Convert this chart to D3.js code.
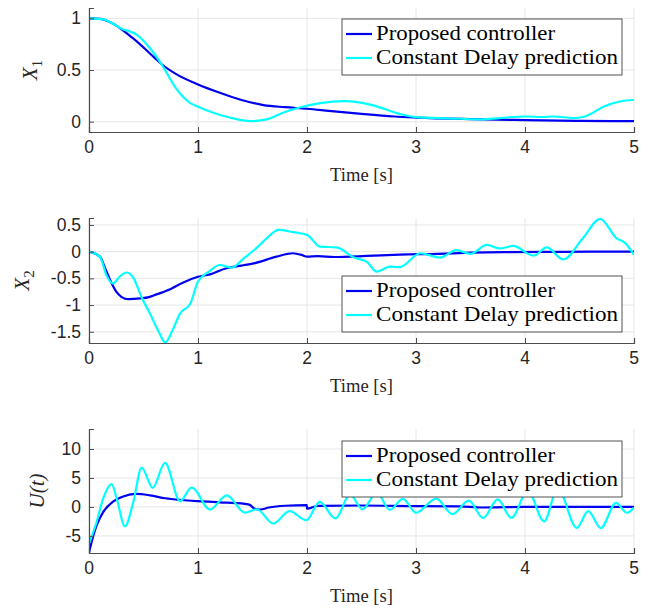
<!DOCTYPE html>
<html>
<head>
<meta charset="utf-8">
<script src="https://cdn.jsdelivr.net/npm/d3@7/dist/d3.min.js"></script>
<style>
	body { margin: 0; background: #fff; }
</style>
</head>
<body>
<div id="idContent"></div>
<script>
var aTicksX = [0, 1, 2, 3, 4, 5];
var aLegend = ["Proposed controller", "Constant Delay prediction"];

// X1
var aX1PropT = [0, 0.1, 0.2, 0.4, 0.6, 0.67, 0.8, 1.0, 1.2, 1.4, 1.6, 1.8, 2.0, 2.2, 2.5, 2.8, 3.0, 3.5, 4.0, 4.5, 5.0];
var aX1PropV = [1, 0.995, 0.96, 0.81, 0.62, 0.553, 0.46, 0.36, 0.28, 0.21, 0.16, 0.14, 0.125, 0.105, 0.075, 0.05, 0.04, 0.025, 0.015, 0.008, 0.005];
var aX1ConsT = [0, 0.13, 0.3, 0.44, 0.56, 0.667, 0.8, 0.93, 1.0, 1.14, 1.29, 1.48, 1.63, 1.78, 1.94, 2.12, 2.35, 2.6, 2.85, 3.0, 3.2, 3.4, 3.6, 3.77, 4.0, 4.15, 4.27, 4.44, 4.55, 4.73, 4.87, 5.0];
var aX1ConsV = [1, 0.99, 0.9, 0.84, 0.71, 0.553, 0.32, 0.18, 0.145, 0.087, 0.04, 0.005, 0.022, 0.087, 0.14, 0.18, 0.198, 0.16, 0.075, 0.044, 0.035, 0.028, 0.022, 0.035, 0.05, 0.045, 0.05, 0.035, 0.05, 0.15, 0.195, 0.212];

// X2
var aX2PropT = [0, 0.1, 0.15, 0.2, 0.25, 0.3, 0.36, 0.47, 0.55, 0.62, 0.75, 0.85, 1.0, 1.11, 1.26, 1.4, 1.51, 1.72, 1.87, 1.95, 2.0, 2.1, 2.25, 2.55, 2.85, 3.2, 3.5, 3.8, 4.2, 4.6, 5.0];
var aX2PropV = [0, -0.094, -0.32, -0.56, -0.75, -0.85, -0.89, -0.875, -0.85, -0.8, -0.7, -0.59, -0.47, -0.425, -0.31, -0.26, -0.22, -0.094, -0.03, -0.06, -0.094, -0.085, -0.1, -0.08, -0.055, -0.04, -0.02, -0.01, -0.005, 0, 0];
var aX2ConsT = [0, 0.1, 0.16, 0.22, 0.28, 0.345, 0.41, 0.48, 0.56, 0.64, 0.7, 0.76, 0.835, 0.93, 1.0, 1.1, 1.2, 1.31, 1.42, 1.54, 1.63, 1.74, 1.87, 2.0, 2.12, 2.27, 2.43, 2.55, 2.64, 2.76, 2.85, 3.04, 3.22, 3.37, 3.5, 3.65, 3.77, 3.89, 4.08, 4.2, 4.35, 4.53, 4.69, 4.84, 4.92, 5.0];
var aX2ConsV = [0, -0.094, -0.44, -0.594, -0.47, -0.39, -0.5, -0.845, -1.16, -1.5, -1.7, -1.5, -1.16, -0.97, -0.56, -0.376, -0.25, -0.3, -0.125, 0.075, 0.25, 0.408, 0.365, 0.314, 0.094, 0.08, -0.11, -0.19, -0.376, -0.28, -0.29, -0.03, -0.11, 0.03, -0.04, 0.127, 0.06, 0.107, -0.075, 0.08, -0.145, 0.25, 0.614, 0.25, 0.16, -0.06];

// U(t)
var aUPropT = [0, 0.025, 0.07, 0.13, 0.22, 0.32, 0.44, 0.56, 0.7, 0.85, 1.0, 1.2, 1.4, 1.47, 1.52, 1.57, 1.65, 1.8, 1.999, 2.0, 2.1, 2.5, 3.0, 3.4, 3.6, 4.0, 4.5, 5.0];
var aUPropV = [-7.9, -6.0, -3.2, -0.9, 0.9, 1.85, 2.25, 2.0, 1.5, 1.2, 1.0, 0.8, 0.6, 0.4, -0.3, -0.45, -0.1, 0.2, 0.3, -0.3, 0.2, 0.25, 0.15, 0.1, -0.1, 0, 0, 0];
var aUConsT = [0, 0.07, 0.13, 0.208, 0.254, 0.33, 0.407, 0.483, 0.584, 0.697, 0.835, 0.942, 1.11, 1.263, 1.43, 1.54, 1.69, 1.84, 1.995, 2.116, 2.26, 2.395, 2.51, 2.64, 2.76, 2.88, 3.0, 3.185, 3.335, 3.485, 3.615, 3.75, 3.875, 4.025, 4.175, 4.3, 4.475, 4.58, 4.695, 4.835, 4.935, 5.0];
var aUConsV = [-6.3, -2.6, 1.45, 3.95, 1.45, -3.34, 0.87, 6.8, 3.3, 7.6, 1.0, 3.35, -0.45, 2.0, -0.97, -0.4, -2.87, -0.74, -2.3, 0.87, -2.0, 2.1, -0.4, 2.5, -0.5, 1.4, -1.0, 1.45, -1.25, 1.1, -1.9, 1.3, -1.9, 2.8, -2.5, 3.2, -3.6, -0.72, -3.65, 0.7, -1.0, -0.1];

var sBlue = "#0000f0",
	sCyan = "#00ffff",
	sAxis = "#4d4d4d",
	sGrid = "#e6e6e6";

var oSvg = d3.select("#idContent").append("svg")
	.attr("width", 653)
	.attr("height", 609);

var x = d3.scaleLinear().domain([0, 5]).range([89, 634]);

function zip(aT, aV) {
	return aT.map(function (t, i) { return [t, aV[i]]; });
}

function createPanel(oCfg) {
	var y = d3.scaleLinear().domain(oCfg.domain).range([oCfg.bottom, oCfg.top]);
	var g = oSvg.append("g");

	// grid
	g.selectAll(".gx").data(aTicksX).enter().append("line")
		.attr("x1", function (d) { return x(d); })
		.attr("x2", function (d) { return x(d); })
		.attr("y1", oCfg.top).attr("y2", oCfg.bottom)
		.attr("stroke", sGrid);
	g.selectAll(".gy").data(oCfg.ticks).enter().append("line")
		.attr("x1", x(0)).attr("x2", x(5))
		.attr("y1", function (d) { return y(d); })
		.attr("y2", function (d) { return y(d); })
		.attr("stroke", sGrid);

	// lines
	var sClip = "clip" + oCfg.id;
	oSvg.append("clipPath").attr("id", sClip).append("rect")
		.attr("x", x(0)).attr("y", oCfg.top)
		.attr("width", x(5) - x(0)).attr("height", oCfg.bottom - oCfg.top);
	var line = d3.line()
		.x(function (d) { return x(d[0]); })
		.y(function (d) { return y(d[1]); })
		.curve(d3.curveMonotoneX);
	g.append("path").datum(zip(oCfg.propT, oCfg.propV))
		.attr("clip-path", "url(#" + sClip + ")")
		.attr("fill", "none").attr("stroke", sBlue).attr("stroke-width", 2.2)
		.attr("d", line);
	g.append("path").datum(zip(oCfg.consT, oCfg.consV))
		.attr("clip-path", "url(#" + sClip + ")")
		.attr("fill", "none").attr("stroke", sCyan).attr("stroke-width", 2.2)
		.attr("d", line);

	// axes
	var gx = g.append("g")
		.attr("transform", "translate(0," + oCfg.bottom + ")")
		.call(d3.axisTop(x).tickValues(aTicksX).tickSize(5).tickFormat(""));
	var gy = g.append("g")
		.attr("transform", "translate(" + x(0) + ",0)")
		.call(d3.axisRight(y).tickValues(oCfg.ticks).tickSize(5).tickFormat(""));
	[gx, gy].forEach(function (a) {
		a.selectAll("path").attr("stroke", sAxis).attr("stroke-width", 1.2);
		a.selectAll("line").attr("stroke", sAxis);
	});

	// tick labels
	g.selectAll(".lx").data(aTicksX).enter().append("text")
		.attr("x", function (d) { return x(d); })
		.attr("y", oCfg.bottom + 21)
		.attr("text-anchor", "middle")
		.style("font", "17.5px 'Liberation Sans', Arial, sans-serif")
		.attr("fill", "#262626")
		.text(function (d) { return d; });
	g.selectAll(".ly").data(oCfg.ticks).enter().append("text")
		.attr("x", 81)
		.attr("y", function (d) { return y(d) + 6; })
		.attr("text-anchor", "end")
		.style("font", "17.5px 'Liberation Sans', Arial, sans-serif")
		.attr("fill", "#262626")
		.text(function (d) { return d; });

	// axis titles
	g.append("text")
		.attr("x", (x(0) + x(5)) / 2)
		.attr("y", oCfg.bottom + 49)
		.attr("text-anchor", "middle")
		.style("font", "19px 'Liberation Serif', serif")
		.attr("fill", "#262626")
		.attr("textLength", 63)
		.attr("lengthAdjust", "spacingAndGlyphs")
		.text("Time [s]");
	var yl = g.append("text")
		.attr("transform", "translate(" + oCfg.ylabelX + "," + (oCfg.top + oCfg.bottom) / 2 + ") rotate(-90)")
		.attr("text-anchor", "middle")
		.attr("dy", "0.35em")
		.style("font", "italic 21px 'Liberation Serif', serif")
		.attr("fill", "#262626");
	yl.append("tspan").text(oCfg.ylabel);
	if (oCfg.sub) {
		yl.append("tspan").attr("dy", 5).style("font-style", "normal").style("font-size", "15px").text(oCfg.sub);
	}

	// legend
	var aLen = [179, 242];
	var lg = g.append("g").attr("transform", "translate(342," + oCfg.legendTop + ")");
	lg.append("rect").attr("width", 280).attr("height", 56)
		.attr("fill", "#fff").attr("stroke", "#262626").attr("stroke-width", 0.8);
	[sBlue, sCyan].forEach(function (c, i) {
		var yy = 15 + i * 24;
		lg.append("line").attr("x1", 4).attr("x2", 30).attr("y1", yy).attr("y2", yy)
			.attr("stroke", c).attr("stroke-width", 2.2);
		lg.append("text").attr("x", 34).attr("y", yy + 6)
			.style("font", "22px 'Liberation Serif', serif")
			.attr("fill", "#000")
			.attr("textLength", aLen[i])
			.attr("lengthAdjust", "spacingAndGlyphs")
			.text(aLegend[i]);
	});
}

createPanel({ id: 1, top: 8, bottom: 132, domain: [-0.1, 1.1], ticks: [0, 0.5, 1],
	ylabel: "X", sub: "1", ylabelX: 30, legendTop: 19,
	propT: aX1PropT, propV: aX1PropV, consT: aX1ConsT, consV: aX1ConsV });
createPanel({ id: 2, top: 218, bottom: 343, domain: [-1.71, 0.63], ticks: [-1.5, -1, -0.5, 0, 0.5],
	ylabel: "X", sub: "2", ylabelX: 22, legendTop: 276,
	propT: aX2PropT, propV: aX2PropV, consT: aX2ConsT, consV: aX2ConsV });
createPanel({ id: 3, top: 429, bottom: 553, domain: [-7.95, 13.45], ticks: [-5, 0, 5, 10],
	ylabel: "U(t)", sub: null, ylabelX: 37, legendTop: 441,
	propT: aUPropT, propV: aUPropV, consT: aUConsT, consV: aUConsV });
</script>
</body>
</html>
